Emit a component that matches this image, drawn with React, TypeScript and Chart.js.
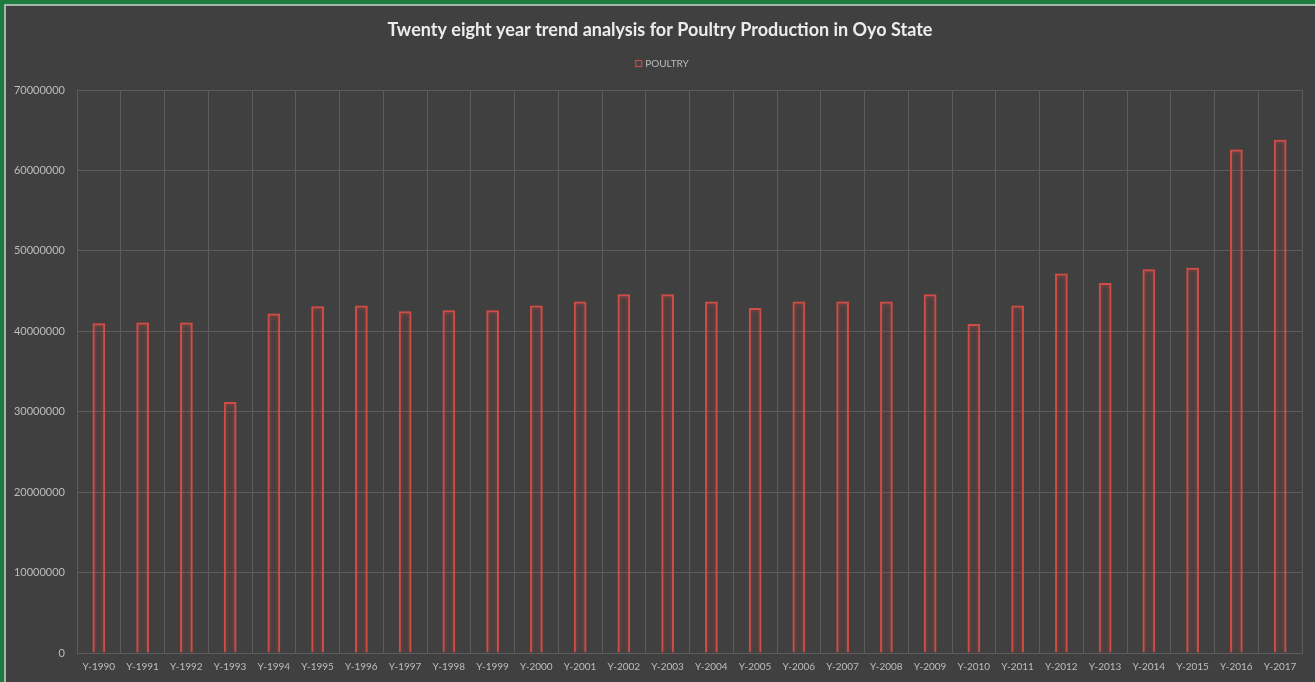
import React, { useEffect, useRef } from "react";
import { Chart, registerables } from "chart.js";

Chart.register(...registerables);

const years: string[] = [
  "Y-1990", "Y-1991", "Y-1992", "Y-1993", "Y-1994", "Y-1995", "Y-1996",
  "Y-1997", "Y-1998", "Y-1999", "Y-2000", "Y-2001", "Y-2002", "Y-2003",
  "Y-2004", "Y-2005", "Y-2006", "Y-2007", "Y-2008", "Y-2009", "Y-2010",
  "Y-2011", "Y-2012", "Y-2013", "Y-2014", "Y-2015", "Y-2016", "Y-2017",
];

const poultry: number[] = [
  41000000, 41100000, 41100000, 31200000, 42200000, 43100000, 43200000,
  42500000, 42600000, 42600000, 43200000, 43700000, 44600000, 44600000,
  43700000, 42900000, 43700000, 43700000, 43700000, 44600000, 40900000,
  43200000, 47200000, 46000000, 47700000, 47900000, 62600000, 63800000,
];

const titleText = "Twenty eight year trend analysis for Poultry Production in Oyo State";
const seriesName = "POULTRY";

const FONT = "Lato, 'Open Sans', sans-serif";

export default function App() {
  const ref = useRef<HTMLCanvasElement | null>(null);

  useEffect(() => {
    document.body.style.margin = "0";
    const canvas = ref.current;
    if (!canvas) return;

    const headerPlugin = {
      id: "header",
      afterDraw(chart: any) {
        const ctx = chart.ctx;
        ctx.save();
        ctx.fillStyle = "#ececec";
        ctx.font = `bold 18px ${FONT}`;
        ctx.textAlign = "center";
        ctx.textBaseline = "middle";
        ctx.fillText(titleText, 654, 24);
        ctx.font = `10px ${FONT}`;
        ctx.fillStyle = "#bdbdbd";
        ctx.textAlign = "left";
        const tw = ctx.measureText(seriesName).width;
        const total = 7 + 3 + tw;
        const x0 = 656 - total / 2;
        ctx.strokeStyle = "#c94a44";
        ctx.lineWidth = 1.2;
        ctx.strokeRect(x0 + 0.5, 54.5, 6, 6);
        ctx.fillText(seriesName, x0 + 10, 58);
        ctx.restore();
      },
    };

    const glowPlugin = {
      id: "glow",
      beforeDatasetsDraw(chart: any) {
        const ctx = chart.ctx;
        ctx.save();
        ctx.shadowColor = "rgba(255,70,60,0.6)";
        ctx.shadowBlur = 5;
      },
      afterDatasetsDraw(chart: any) {
        chart.ctx.restore();
      },
    };

    const chart = new Chart(canvas, {
      type: "bar",
      data: {
        labels: years,
        datasets: [
          {
            label: seriesName,
            data: poultry,
            backgroundColor: "rgba(0,0,0,0)",
            borderColor: "#cf4d47",
            borderWidth: 2,
            barPercentage: 0.29,
            categoryPercentage: 1,
          },
        ],
      },
      options: {
        animation: false,
        responsive: false,
        maintainAspectRatio: false,
        layout: { padding: { left: 7, right: 13, top: 84, bottom: 7 } },
        plugins: {
          legend: { display: false },
          title: { display: false },
          tooltip: { enabled: false },
        },
        scales: {
          x: {
            offset: true,
            grid: {
              color: "#5c5c5c",
              offset: true,
              drawTicks: false,
            },
            border: { color: "#5c5c5c" },
            ticks: {
              color: "#bdbdbd",
              font: { family: FONT, size: 10 },
              padding: 8,
              maxRotation: 0,
              autoSkip: false,
            },
            afterFit: (s: any) => {
              s.height = 22;
            },
          },
          y: {
            min: 0,
            max: 70000000,
            grid: { color: "#5c5c5c", drawTicks: false },
            border: { display: false },
            ticks: {
              stepSize: 10000000,
              color: "#bdbdbd",
              font: { family: FONT, size: 11 },
              padding: 12,
              callback: (v: any) => String(v),
            },
            afterFit: (s: any) => {
              s.width = 64;
            },
          },
        },
      },
      plugins: [headerPlugin, glowPlugin],
    });

    return () => chart.destroy();
  }, []);

  return (
    <div
      style={{
        position: "absolute",
        left: 0,
        top: 0,
        width: 1315,
        height: 682,
        background: "#1e7a3e",
        overflow: "hidden",
      }}
    >
      <div
        style={{
          position: "absolute",
          left: 4,
          top: 4,
          width: 1311,
          height: 678,
          background: "#9fb8a8",
        }}
      />
      <div
        style={{
          position: "absolute",
          left: 6,
          top: 6,
          width: 1309,
          height: 676,
          background: "#404040",
        }}
      >
        <canvas ref={ref} width={1309} height={676} style={{ display: "block" }} />
      </div>
    </div>
  );
}
